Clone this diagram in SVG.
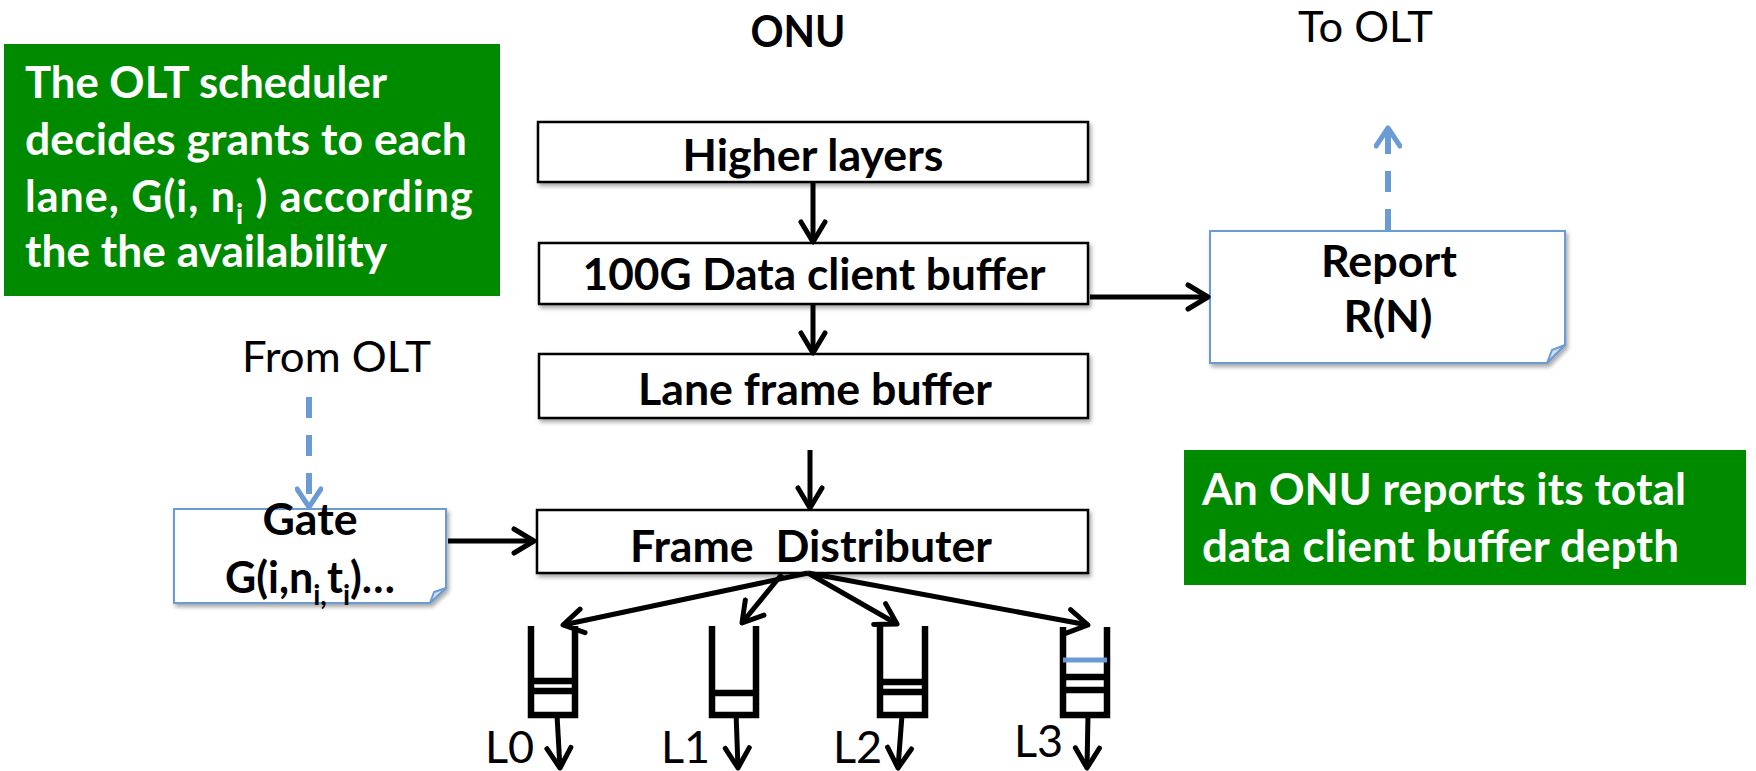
<svg xmlns="http://www.w3.org/2000/svg" width="1756" height="771" viewBox="0 0 1756 771">
<defs>
<style>
.b{font-family:Lato,"Open Sans","Liberation Sans",sans-serif;font-weight:bold;font-size:43px;fill:#000}
.r{font-family:Lato,"Open Sans","Liberation Sans",sans-serif;font-weight:normal;font-size:43px;fill:#000}
.l{font-family:Lato,"Open Sans","Liberation Sans",sans-serif;font-weight:normal;font-size:45px;fill:#000}
.w{fill:#fff}
.box{fill:#fff;stroke:#000;stroke-width:2.5;filter:url(#sh)}
.note{fill:#fff;stroke:#6A9BD4;stroke-width:2;filter:url(#sh)}
.fold{fill:#D3DEEC;stroke:#6A9BD4;stroke-width:2;stroke-linejoin:round}
.green{fill:#008A00}
.arr{stroke:#000;stroke-width:5;fill:none;marker-end:url(#ah)}
.dash{stroke:#6A9BD4;stroke-width:6;fill:none;stroke-dasharray:21 17;marker-end:url(#bh)}
.buf{stroke:#000;stroke-width:6.5;fill:none}
</style>
<filter id="sh" x="-5%" y="-10%" width="115%" height="130%">
<feDropShadow dx="2" dy="3" stdDeviation="2" flood-color="#000" flood-opacity="0.35"/>
</filter>
<marker id="ah" markerUnits="userSpaceOnUse" markerWidth="28" markerHeight="30" viewBox="0 0 28 30" refX="24" refY="15" orient="auto">
<path d="M4,3 L24,15 L4,27" fill="none" stroke="#000" stroke-width="5" stroke-linecap="round" stroke-linejoin="round"/>
</marker>
<marker id="bh" markerUnits="userSpaceOnUse" markerWidth="26" markerHeight="28" viewBox="0 0 26 28" refX="22" refY="14" orient="auto">
<path d="M4,2 L22,14 L4,26" fill="none" stroke="#6A9BD4" stroke-width="5" stroke-linecap="round" stroke-linejoin="round"/>
</marker>
</defs>

<g id="title-onu"><text class="b" x="798" y="47" text-anchor="middle" textLength="95" lengthAdjust="spacingAndGlyphs">ONU</text></g>
<g id="label-to-olt"><text class="r" x="1298" y="42" textLength="135" lengthAdjust="spacingAndGlyphs">To OLT</text></g>
<g id="label-from-olt"><text class="r" x="242" y="372" textLength="189" lengthAdjust="spacingAndGlyphs">From OLT</text></g>

<g id="note-scheduler">
<rect class="green" x="4" y="44" width="496" height="252"/>
<text class="b w" x="25" y="98" textLength="362" lengthAdjust="spacingAndGlyphs">The OLT scheduler</text>
<text class="b w" x="25" y="155" textLength="442" lengthAdjust="spacingAndGlyphs">decides grants to each</text>
<text class="b w" x="25" y="212" letter-spacing="1" xml:space="preserve">lane, G(i, n<tspan dy="12" font-size="28">i</tspan><tspan dy="-12"> ) according</tspan></text>
<text class="b w" x="25" y="267" textLength="362" lengthAdjust="spacingAndGlyphs">the the availability</text>
</g>

<g id="note-onu-reports">
<rect class="green" x="1184" y="450" width="562" height="135"/>
<text class="b w" x="1202" y="505" textLength="484" lengthAdjust="spacingAndGlyphs">An ONU reports its total</text>
<text class="b w" x="1202" y="562" textLength="477" lengthAdjust="spacingAndGlyphs">data client buffer depth</text>
</g>

<g id="node-higher-layers">
<rect class="box" x="538" y="122" width="550" height="60"/>
<text class="b" x="813" y="171" text-anchor="middle" textLength="261" lengthAdjust="spacingAndGlyphs">Higher layers</text>
</g>
<g id="node-data-client-buffer">
<rect class="box" x="539" y="243" width="549" height="61"/>
<text class="b" x="814" y="290" text-anchor="middle" textLength="463" lengthAdjust="spacingAndGlyphs">100G Data client buffer</text>
</g>
<g id="node-lane-frame-buffer">
<rect class="box" x="539" y="354" width="549" height="64"/>
<text class="b" x="815" y="405" text-anchor="middle" textLength="354" lengthAdjust="spacingAndGlyphs">Lane frame buffer</text>
</g>
<g id="node-frame-distributer">
<rect class="box" x="537" y="510" width="551" height="63"/>
<text class="b" x="811" y="562" text-anchor="middle" textLength="362" lengthAdjust="spacingAndGlyphs" xml:space="preserve">Frame  Distributer</text>
</g>

<g id="node-report">
<path class="note" d="M1210,231 H1565 V345 L1547,363 H1210 Z"/>
<path class="fold" d="M1547,363 L1552,350 L1565,345 Z"/>
<text class="b" x="1389" y="277" text-anchor="middle" textLength="136" lengthAdjust="spacingAndGlyphs">Report</text>
<text class="b" x="1388" y="332" text-anchor="middle" textLength="89" lengthAdjust="spacingAndGlyphs">R(N)</text>
</g>

<g id="node-gate">
<path class="note" d="M174,509 H446 V588 L430,603 H174 Z"/>
<path class="fold" d="M430,603 L434,592 L446,588 Z"/>
<text class="b" x="310" y="535" text-anchor="middle" textLength="95" lengthAdjust="spacingAndGlyphs">Gate</text>
<text class="b" x="310" y="593" text-anchor="middle">G(i,n<tspan dy="12" font-size="28">i,</tspan><tspan dy="-12">t</tspan><tspan dy="12" font-size="28">i</tspan><tspan dy="-12">)…</tspan></text>
</g>

<g id="lane-buffers">
<g id="buffer-l0">
<path class="buf" d="M531,626 V715 H575 V626 M531,681 H575 M531,691 H575"/>
<text class="l" x="485" y="763">L0</text>
</g>
<g id="buffer-l1">
<path class="buf" d="M712,626 V715 H756 V626 M712,693 H756"/>
<text class="l" x="661" y="763">L1</text>
</g>
<g id="buffer-l2">
<path class="buf" d="M880,626 V715 H925 V626 M880,682 H925 M880,692 H925"/>
<text class="l" x="833" y="763">L2</text>
</g>
<g id="buffer-l3">
<path class="buf" d="M1063,627 V715 H1107 V627 M1063,677 H1107 M1063,690 H1107"/>
<path d="M1063,660 H1107" stroke="#6A9BD4" stroke-width="5"/>
<text class="l" x="1014" y="757">L3</text>
</g>
</g>

<g id="connectors">
<path class="arr" d="M813,182 V242"/>
<path class="arr" d="M813,304 V353"/>
<path class="arr" d="M810,450 V508"/>
<path class="arr" d="M1090,297 H1208"/>
<path class="arr" d="M448,541 H534"/>
<path class="arr" d="M808,573 L563,625"/>
<path class="arr" d="M782,574 L742,623"/>
<path class="arr" d="M808,573 L897,624"/>
<path class="arr" d="M808,573 L1088,625"/>
<path class="arr" d="M557,715 L560,768"/>
<path class="arr" d="M736,712 L738,768"/>
<path class="arr" d="M902,715 L898,768"/>
<path class="arr" d="M1088,715 L1087,768"/>
<path class="dash" d="M1388,230 V128"/>
<path class="dash" d="M309,397 V507"/>
</g>
</svg>
